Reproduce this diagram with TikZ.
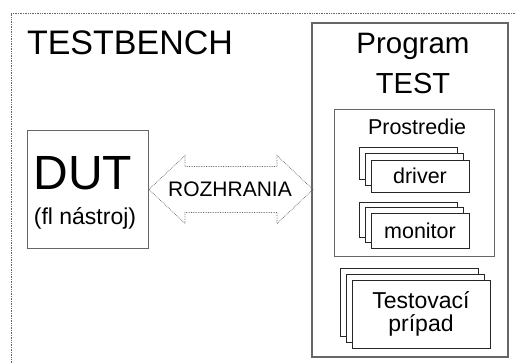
\documentclass[tikz,border=0pt]{standalone}
\usepackage{fontspec}
\setmainfont{Liberation Sans}

\tikzset{
  frame/.style={draw=black!60, line width=0.9pt},
  card/.style={draw=black!85, line width=0.7pt, fill=white, inner sep=0pt},
  dots/.style={draw=black!60, densely dotted, line width=0.7pt},
}
\newcommand{\fs}[1]{\fontsize{#1}{#1}\selectfont}

\begin{document}
\begin{tikzpicture}[x=1pt, y=-1pt]
\useasboundingbox (0,0) rectangle (515,363);
% testbench frame
\draw[dots] (11,363) |- (515,13);
\node[anchor=base] (tb) at (130,55) {\fs{34}TESTBENCH};
% DUT
\node[frame, minimum width=121pt, minimum height=118pt] (dut) at (87.5,189) {};
\node[anchor=base] (dutname) at (83,190) {\fs{48}DUT};
\node[anchor=base] (dutsub) at (85,225) {\fs{23}(fl nástroj)};
% program
\node[frame, line width=1.2pt, minimum width=196pt, minimum height=334pt] (prog) at (410,190) {};
\node[anchor=base] (progname) at (413,54) {\fs{29.5}Program};
\node[anchor=base] (progtest) at (413,94) {\fs{29}TEST};
% environment
\node[frame, minimum width=160pt, minimum height=147pt] (env) at (414,182.5) {};
\node[anchor=base] (envname) at (417,135) {\fs{21.5}Prostredie};
% driver
\node[card, minimum width=98pt, minimum height=32pt] (drv1) at (408,163) {};
\node[card, minimum width=98pt, minimum height=32pt] (drv2) at (414,169.5) {};
\node[card, minimum width=98pt, minimum height=32pt] (drv3) at (420,176) {\fs{21.5}driver};
% monitor
\node[card, minimum width=98pt, minimum height=35pt] (mon1) at (408,219.5) {};
\node[card, minimum width=98pt, minimum height=35pt] (mon2) at (414,225) {};
\node[card, minimum width=98pt, minimum height=35pt] (mon3) at (420,230.5) {\fs{21.5}monitor};
% test case
\node[card, minimum width=138pt, minimum height=68pt] (tc1) at (409,302) {};
\node[card, minimum width=138pt, minimum height=68pt] (tc2) at (415,308) {};
\node[card, minimum width=138pt, minimum height=68pt, align=center] (tc3) at (421,314)
  {\fs{23}Testovací\\[4pt]\fs{23}prípad};
% interface: double arrow between DUT and program
\coordinate (tipl) at (149,189.5);
\coordinate (tipr) at (313,189.5);
\draw[dots] (tipl) -- ++(36,-34) -- ++(0,11) -- ++(92,0) -- ++(0,-11) -- (tipr)
  -- ++(-36,34) -- ++(0,-11) -- ++(-92,0) -- ++(0,11) -- cycle;
\node (rozh) at (230,189.5) {\fs{21}ROZHRANIA};
\end{tikzpicture}
\end{document}
